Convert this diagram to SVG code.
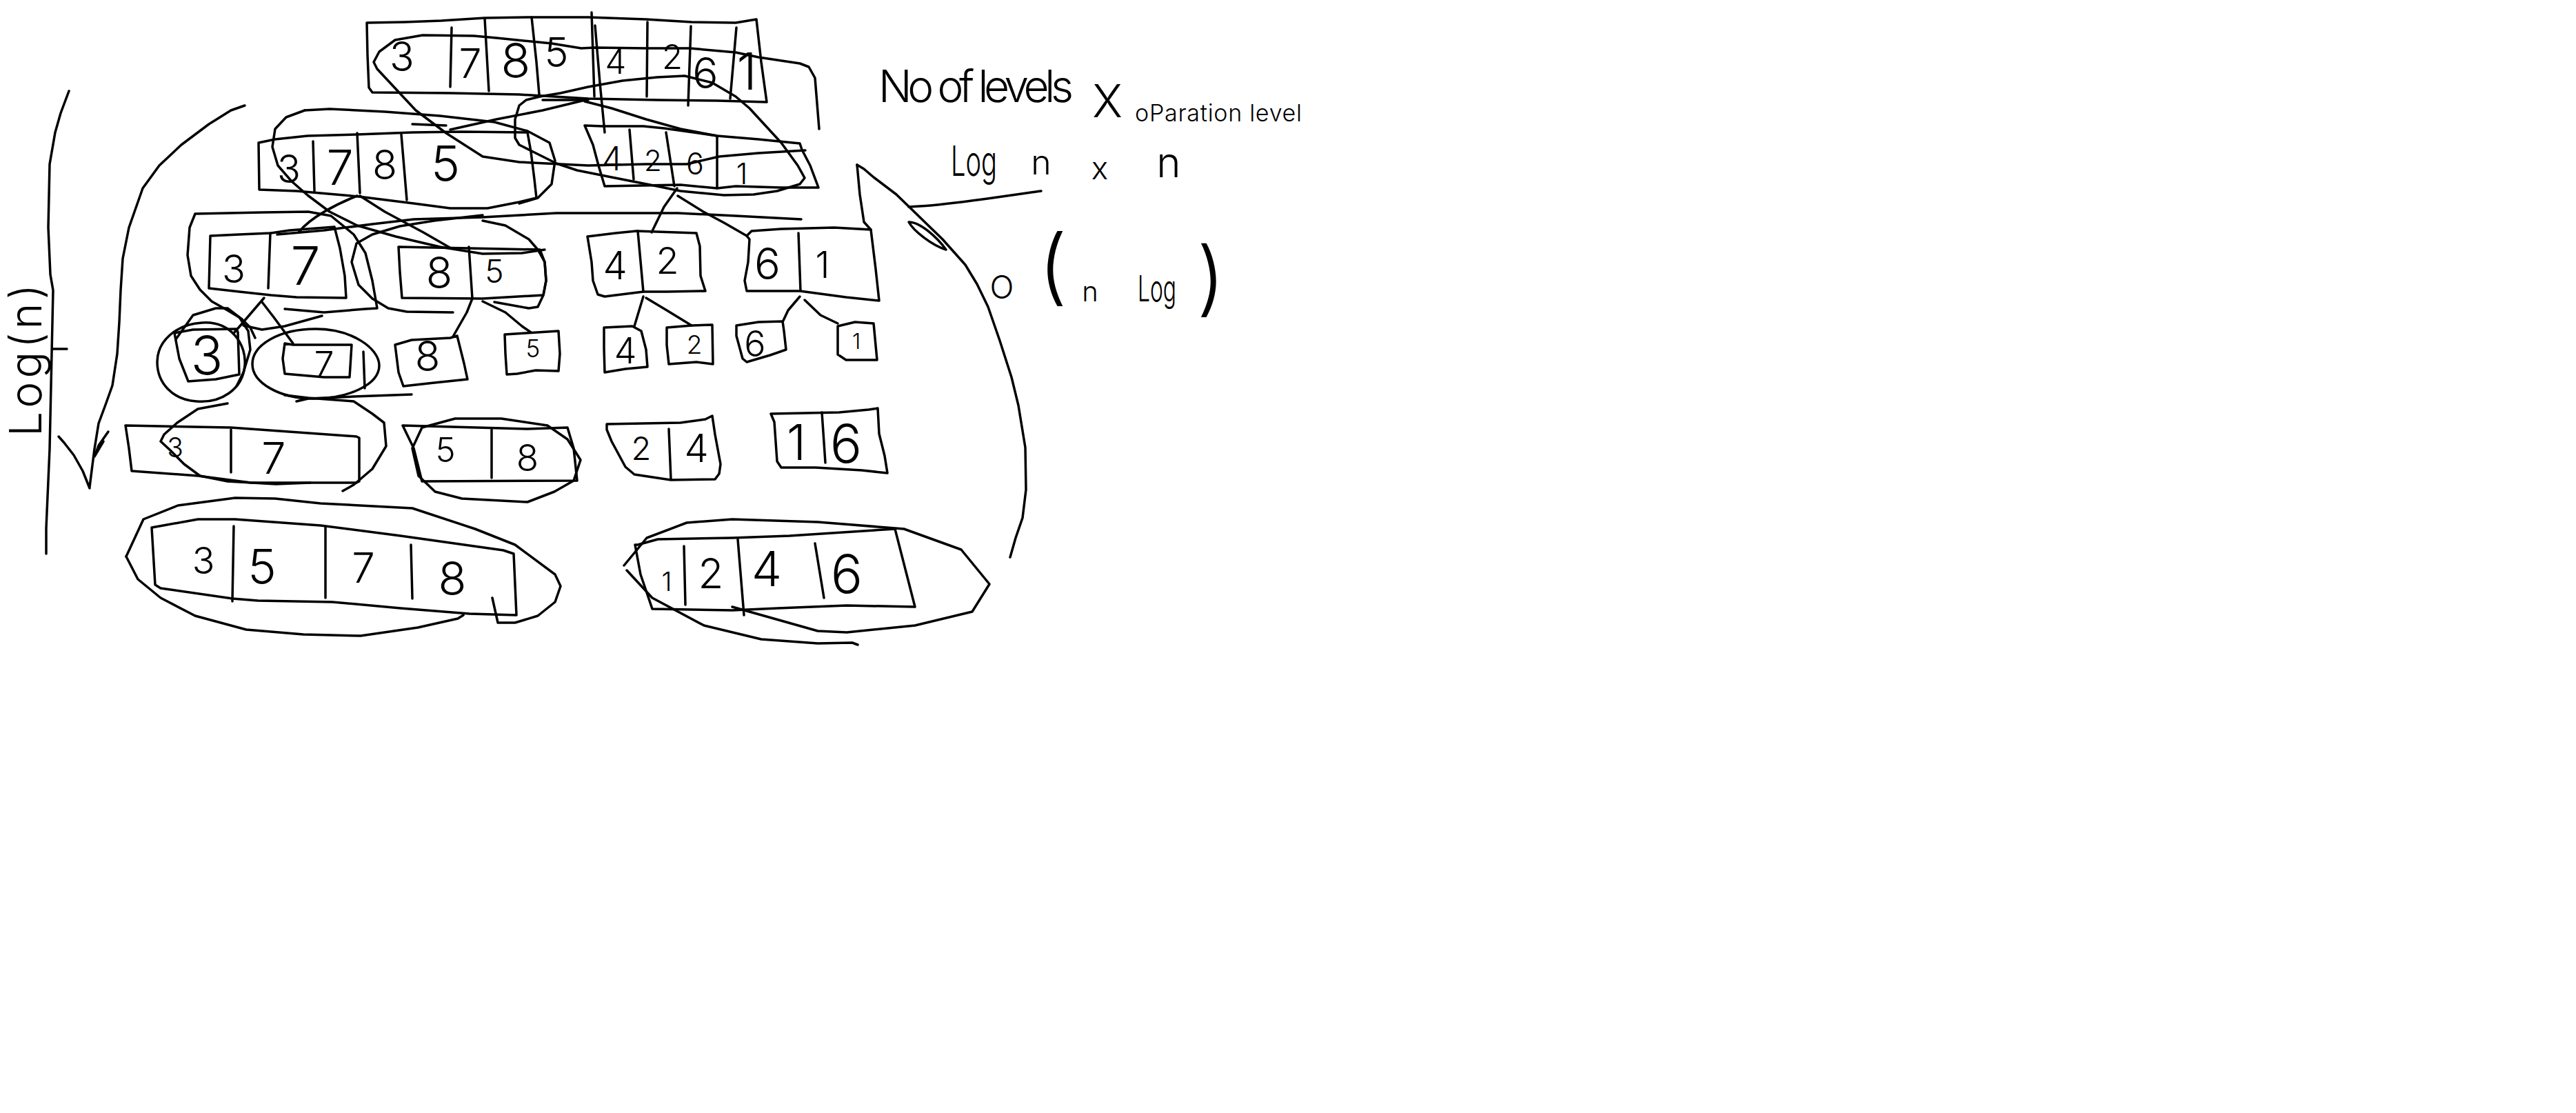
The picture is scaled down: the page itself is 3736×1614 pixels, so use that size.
<svg xmlns="http://www.w3.org/2000/svg" width="3736" height="1614" viewBox="0 0 3736 1614">
<style>
.s{fill:none;stroke:#000;stroke-width:3.5;stroke-linecap:round;stroke-linejoin:round}
.t{font-family:Inter,"Liberation Sans","DejaVu Sans",sans-serif;font-weight:300;fill:#000}
.d{text-anchor:middle}
</style>
<rect width="3736" height="1614" fill="#fff"/>

<g id="annotations" class="s">
<path d="M1188,187 L1185,150 L1182,113 L1173,97 L1160,92 L1100,83 L1067,76 L1000,70 L937,70 L863,69 L843,70 L800,63 L720,55 L687,52 L613,51 L573,58 L550,75 L542,90 L547,100 L575,130 L603,160 L647,193 L700,227 L753,235 L853,240 L937,238 L996,238 L1043,227 L1100,222 L1168,218"/>
<path d="M993,110 L1033,120 L1067,140 L1087,157 L1110,182 L1133,207 L1157,240 L1167,258 L1160,267 L1127,277 L1093,282 L1050,283 L987,277 L953,270 L887,257 L837,247 L807,237 L773,220 L753,210 L747,200 L747,173 L753,153 L763,145 L783,140 L813,135 L853,126 L903,117 L953,112 Z"/>
<path d="M787,145 L853,145"/>
<path d="M598,180 L647,182"/>
<path d="M442,160 L478,158 L558,162 L638,168 L717,177 L765,190 L797,207 L805,233 L800,267 L780,287 L753,295"/>
<path d="M442,160 L415,170 L399,187 L395,213 L403,240 L423,263 L446,283 L478,307 L518,327 L574,343 L638,358 L700,368 L757,367 L790,362"/>
<path d="M402,340 L470,334 L540,325 L600,318 L700,315 L807,309 L983,309 L1067,313 L1162,318"/>
<path d="M413,448 L470,453 L530,448 L547,447 L540,407 L530,367 L513,340 L480,313 L447,307 L380,308 L283,310 L275,330 L272,370 L277,400 L290,420 L307,437 L330,450 L350,462 L363,475 L370,490"/>
<path d="M353,472 L380,478 L413,473 L467,458"/>
<path d="M700,312 L630,320 L580,328 L540,340 L517,353 L510,380 L520,413 L540,433 L563,447 L590,452 L657,453"/>
<path d="M700,320 L733,327 L767,347 L780,362 L790,380 L792,407 L788,428 L780,445 L767,447 L717,438"/>
<path d="M293,468 C335,465 358,500 355,530 C352,565 320,585 285,582 C250,580 228,555 228,525 C228,495 255,470 293,468 Z"/>
<path d="M255,492 L280,457 L313,447 L330,447 L347,460 L360,480 L363,507 L353,540 L343,560"/>
<path d="M458,477 C510,477 550,505 550,530 C550,558 505,578 455,578 C405,578 366,555 366,528 C366,500 405,477 458,477 Z"/>
<path d="M527,510 L529,563"/>
<path d="M430,582 L447,578 L513,575 L597,572"/>
<path d="M330,585 L287,593 L257,613 L238,630 L233,640 L247,653 L267,673 L290,690 L330,698 L400,702 L450,700"/>
<path d="M413,573 L447,577 L513,582 L540,600 L557,613 L560,647 L540,680 L513,703 L497,712"/>
<path d="M612,620 L660,607 L727,607 L794,617 L823,637 L842,667 L832,697 L804,713 L765,728 L670,723 L631,713 L607,690 L598,650 Z"/>
<path d="M183,807 L208,753 L258,733 L341,722 L399,723 L465,730 L598,737 L689,767 L747,790 L805,833 L813,850 L805,873 L780,893 L747,903 L722,903 L714,867"/>
<path d="M183,807 L200,840 L233,867 L283,893 L357,913 L440,920 L523,922 L606,910 L664,897 L672,892"/>
<path d="M905,820 L938,780 L996,758 L1062,753 L1186,757 L1311,767 L1394,797 L1435,847 L1410,887 L1327,907 L1228,917 L1186,915 L1062,880"/>
<path d="M909,827 L946,867 L1021,907 L1104,927 L1186,933 L1236,932 L1244,935"/>
<path d="M355,153 L335,160 L303,180 L263,210 L231,240 L207,273 L187,330 L178,375 L175,421 L173,467 L170,513 L163,559 L153,587 L143,614 L137,651 L130,706"/>
<path d="M85,633 L93,642 L107,660 L120,683 L130,708"/>
<path d="M157,626 L143,646 L137,662 L150,640"/>
<path d="M100,132 L88,164 L80,192 L72,238 L70,330 L73,398 L77,421 L75,513 L72,651 L67,766 L67,803"/>
<path d="M77,506 L97,506"/>
<path d="M1243,239 L1253,245 L1267,257 L1300,282 L1333,314 L1367,347 L1400,384 L1417,412 L1433,445 L1450,494 L1467,547 L1477,588 L1487,649 L1488,710 L1483,751 L1473,780 L1465,808"/>
<path d="M1243,239 L1247,282 L1253,322 L1263,333"/>
<path d="M1318,322 C1335,322 1360,345 1372,362 C1352,356 1325,335 1318,322 Z"/>
<path d="M1318,300 C1367,298 1433,288 1510,277"/>
</g>

<g id="connectors" class="s">
<path d="M853,144 L787,160 L720,173 L653,188"/>
<path d="M863,37 L870,120 L877,192"/>
<path d="M848,147 L887,157 L937,173 L987,187 L1040,197"/>
<path d="M518,284 C490,295 450,315 433,337"/>
<path d="M522,284 L558,307 L614,337 L654,360"/>
<path d="M982,273 L963,300 L945,337"/>
<path d="M983,284 L1020,307 L1050,323 L1083,342"/>
<path d="M383,432 L353,467 L340,482"/>
<path d="M380,438 L397,460 L425,498"/>
<path d="M685,433 L677,453 L657,488"/>
<path d="M700,437 L733,453 L757,473 L770,482"/>
<path d="M933,430 L920,473"/>
<path d="M937,432 L967,450 L1003,472"/>
<path d="M1160,430 L1143,450 L1135,467"/>
<path d="M1167,435 L1190,457 L1215,469"/>
</g>

<g id="n-37854261">
<path class="s" d="M532,33 L587,32 L640,30 L703,26 L770,25 L853,25 L937,28 L1003,32 L1067,33 L1097,28 L1104,90 L1112,148 L1040,146 L953,145 L853,143 L753,137 L653,135 L540,134 L535,127 L533,80 Z"/>
<path class="s" d="M655,40 L653,126 M703,27 L709,132 M771,25 L778,90 L782,137 M858,18 L862,140 M939,32 L938,140 M1002,38 L998,153 M1068,40 L1059,143"/>
<text class="t d" x="583" y="103" font-size="59">3</text>
<text class="t d" x="682" y="113" font-size="59">7</text>
<text class="t d" x="748" y="113" font-size="70">8</text>
<text class="t d" x="807" y="97" font-size="59">5</text>
<text class="t d" x="893" y="107" font-size="49">4</text>
<text class="t d" x="975" y="100" font-size="49">2</text>
<text class="t d" x="1023" y="128" font-size="62">6</text>
<text class="t d" x="1083" y="130" font-size="74">1</text>
</g>

<g id="n-3785">
<path class="s" d="M375,207 L399,202 L446,197 L518,195 L598,192 L670,191 L765,192 L770,220 L775,260 L778,287 L753,293 L707,302 L653,302 L600,295 L520,285 L430,277 L376,275 Z"/>
<path class="s" d="M454,205 L456,277 M518,193 L522,280 M582,195 L590,290"/>
<text class="t d" x="419" y="265" font-size="56">3</text>
<text class="t d" x="493" y="268" font-size="70">7</text>
<text class="t d" x="558" y="260" font-size="59">8</text>
<text class="t d" x="646" y="263" font-size="71">5</text>
</g>

<g id="n-4261">
<path class="s" d="M848,182 L873,183 L933,183 L963,186 L1040,197 L1100,202 L1160,208 L1163,217 L1175,240 L1187,272 L1133,272 L1067,270 L1040,273 L987,268 L877,270 L868,240 L860,210 Z"/>
<path class="s" d="M913,188 L919,260 M966,192 L978,270 M1040,198 L1040,273"/>
<text class="t d" x="888" y="247" font-size="48">4</text>
<text class="t d" x="947" y="248" font-size="42">2</text>
<text class="t d" x="1008" y="253" font-size="43">6</text>
<text class="t d" x="1076" y="267" font-size="42">1</text>
</g>

<g id="n-37">
<path class="s" d="M305,342 L347,340 L393,338 L420,334 L485,329 L493,360 L500,400 L502,432 L430,431 L393,428 L347,423 L303,418 L304,380 Z"/>
<path class="s" d="M392,338 L389,418"/>
<text class="t d" x="339" y="410" font-size="56">3</text>
<text class="t d" x="443" y="413" font-size="77">7</text>
</g>

<g id="n-85">
<path class="s" d="M578,358 L680,360 L783,362 L790,380 L792,407 L788,428 L700,433 L583,432 L580,395 Z"/>
<path class="s" d="M680,358 L685,433"/>
<text class="t d" x="637" y="418" font-size="63">8</text>
<text class="t d" x="717" y="410" font-size="46">5</text>
</g>

<g id="n-42">
<path class="s" d="M852,343 L893,338 L923,335 L1010,338 L1015,357 L1016,400 L1023,422 L967,423 L933,423 L877,430 L867,427 L860,407 L858,380 Z"/>
<path class="s" d="M925,335 L933,423"/>
<text class="t d" x="892" y="405" font-size="56">4</text>
<text class="t d" x="968" y="397" font-size="54">2</text>
</g>

<g id="n-61">
<path class="s" d="M1083,342 L1090,335 L1133,332 L1210,330 L1263,333 L1270,390 L1275,436 L1227,431 L1160,422 L1083,422 L1080,407 L1085,380 L1087,347 Z"/>
<path class="s" d="M1158,338 L1161,422"/>
<text class="t d" x="1113" y="405" font-size="63">6</text>
<text class="t d" x="1193" y="403" font-size="53">1</text>
</g>

<g id="n-3">
<path class="s" d="M253,483 L280,478 L343,477 L345,482 L347,543 L313,550 L273,553 L260,520 Z"/>
<text class="t d" x="300" y="543" font-size="77">3</text>
</g>
<g id="n-7">
<path class="s" d="M413,498 L425,500 L510,500 L507,547 L470,547 L413,542 L410,520 Z"/>
<text class="t d" x="470" y="547" font-size="52">7</text>
</g>
<g id="n-8">
<path class="s" d="M573,500 L597,493 L653,490 L663,487 L673,527 L678,550 L630,555 L585,560 L578,540 Z"/>
<text class="t d" x="620" y="538" font-size="60">8</text>
</g>
<g id="n-5">
<path class="s" d="M732,485 L763,483 L810,480 L812,513 L810,538 L777,537 L750,542 L735,543 L733,513 Z"/>
<text class="t d" x="773" y="518" font-size="35">5</text>
</g>
<g id="n-4">
<path class="s" d="M876,475 L917,473 L930,480 L937,507 L939,532 L907,535 L877,540 L876,505 Z"/>
<text class="t d" x="907" y="527" font-size="52">4</text>
</g>
<g id="n-2">
<path class="s" d="M967,475 L1003,472 L1033,471 L1034,528 L1010,525 L970,528 L967,500 Z"/>
<text class="t d" x="1007" y="513" font-size="37">2</text>
</g>
<g id="n-6">
<path class="s" d="M1068,472 L1100,467 L1135,466 L1137,480 L1140,507 L1117,515 L1083,525 L1077,520 L1068,487 Z"/>
<text class="t d" x="1095" y="517" font-size="52">6</text>
</g>
<g id="n-1">
<path class="s" d="M1215,473 L1240,467 L1267,469 L1272,522 L1227,522 L1215,514 Z"/>
<text class="t d" x="1242" y="506" font-size="31">1</text>
</g>

<g id="n-37b">
<path class="s" d="M182,617 L335,620 L517,633 L521,635 L521,698 L517,700 L364,700 L287,690 L191,683 L187,650 Z"/>
<path class="s" d="M335,623 L335,685"/>
<text class="t d" x="254" y="663" font-size="39">3</text>
<text class="t d" x="397" y="687" font-size="63">7</text>
</g>
<g id="n-58">
<path class="s" d="M584,617 L765,622 L823,620 L832,650 L837,697 L612,698 L600,650 Z"/>
<path class="s" d="M713,623 L713,693"/>
<text class="t d" x="646" y="670" font-size="49">5</text>
<text class="t d" x="765" y="683" font-size="53">8</text>
</g>
<g id="n-24">
<path class="s" d="M880,615 L933,614 L987,613 L1023,608 L1033,603 L1037,630 L1045,673 L1043,687 L1037,695 L973,696 L920,688 L907,677 L887,640 L880,623 Z"/>
<path class="s" d="M970,622 L973,695"/>
<text class="t d" x="930" y="667" font-size="47">2</text>
<text class="t d" x="1010" y="670" font-size="56">4</text>
</g>
<g id="n-16">
<path class="s" d="M1118,600 L1217,598 L1260,594 L1273,592 L1275,629 L1283,661 L1287,686 L1250,682 L1183,678 L1133,678 L1127,669 L1123,612 Z"/>
<path class="s" d="M1192,598 L1197,671"/>
<text class="t d" x="1155" y="667" font-size="71">1</text>
<text class="t d" x="1227" y="671" font-size="77">6</text>
</g>

<g id="n-3578">
<path class="s" d="M220,765 L287,753 L341,753 L465,762 L581,777 L730,798 L745,803 L749,892 L681,890 L581,882 L482,873 L374,871 L337,868 L233,853 L225,848 Z"/>
<path class="s" d="M339,763 L337,872 M472,765 L472,867 M596,790 L598,868"/>
<text class="t d" x="295" y="832" font-size="54">3</text>
<text class="t d" x="380" y="847" font-size="70">5</text>
<text class="t d" x="527" y="845" font-size="60">7</text>
<text class="t d" x="656" y="863" font-size="67">8</text>
</g>
<g id="n-1246">
<path class="s" d="M925,790 L954,782 L1062,780 L1145,777 L1298,767 L1327,880 L1228,878 L1128,882 L1062,885 L946,883 L929,833 L921,790 Z"/>
<path class="s" d="M992,792 L994,877 M1070,782 L1079,892 M1182,788 L1195,867"/>
<text class="t d" x="967" y="857" font-size="38">1</text>
<text class="t d" x="1031" y="853" font-size="60">2</text>
<text class="t d" x="1112" y="850" font-size="70">4</text>
<text class="t d" x="1228" y="860" font-size="77">6</text>
</g>

<g id="labels">
<text class="t" transform="translate(60,633) rotate(-90)" font-size="64" textLength="221" lengthAdjust="spacing">Log(n)</text>
<text class="t" x="1274" y="148" font-size="64" textLength="283" lengthAdjust="spacing">No of levels</text>
<text class="t d" x="1606" y="170" font-size="66">X</text>
<text class="t" x="1646" y="176" font-size="34" textLength="242" lengthAdjust="spacing">oParation level</text>
<text class="t" x="1379" y="255" font-size="60" textLength="67" lengthAdjust="spacingAndGlyphs">Log</text>
<text class="t d" x="1510" y="253" font-size="50">n</text>
<text class="t d" x="1595" y="260" font-size="46">x</text>
<text class="t d" x="1695" y="257" font-size="60">n</text>
<text class="t d" x="1453" y="433" font-size="46">O</text>
<text class="t d" x="1527" y="428" font-size="120">(</text>
<text class="t d" x="1581" y="437" font-size="40">n</text>
<text class="t" x="1650" y="437" font-size="52" textLength="56" lengthAdjust="spacingAndGlyphs">Log</text>
<text class="t d" x="1756" y="444" font-size="118">)</text>
</g>
</svg>
